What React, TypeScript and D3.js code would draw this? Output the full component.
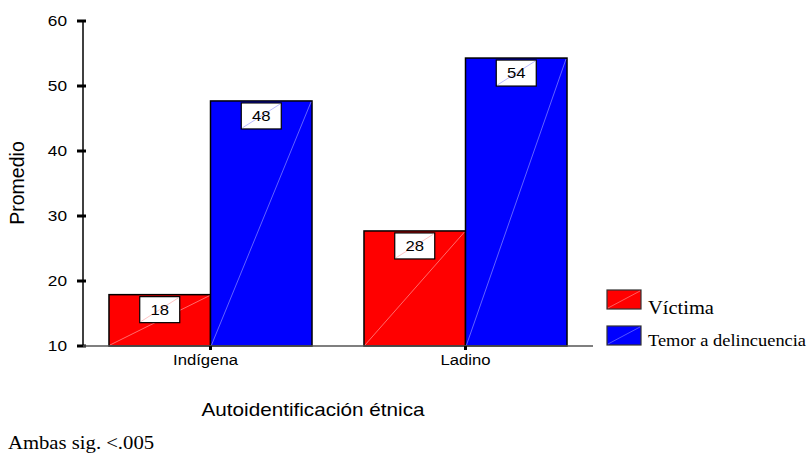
import React from "react";
import * as d3 from "d3";

const categories = ["Indígena", "Ladino"];
const seriesNames = ["Víctima", "Temor a delincuencia"];
const victima = [17.9, 27.7];
const temor = [47.7, 54.3];
const labelsVictima = ["18", "28"];
const labelsTemor = ["48", "54"];
const yTicks = [10, 20, 30, 40, 50, 60];
const colors = ["#ff0000", "#0000ff"];
const lineColors = ["#ff9a9a", "#8c8cff"];

const W = 809;
const H = 462;
const SX = 1.15;
const sans = "Arial, 'Liberation Sans', sans-serif";
const serif = "'Times New Roman', 'Liberation Serif', serif";

function T({ x, y, size, family, anchor = "start", children }: any) {
  return (
    <g transform={`translate(${x},${y}) scale(${SX},1)`}>
      <text x={0} y={0} textAnchor={anchor} fontFamily={family} fontSize={size} fill="#000">
        {children}
      </text>
    </g>
  );
}

export default function App() {
  const x = d3.scaleBand<string>().domain(categories).range([83, 593]).paddingInner(0).paddingOuter(0);
  const y = d3.scaleLinear().domain([10, 60]).range([346, 21]);
  const sub = d3.scaleBand<number>().domain([0, 1]).range([0, x.bandwidth()]).paddingOuter(0.256).paddingInner(0);
  const series = [victima, temor];
  const labels = [labelsVictima, labelsTemor];

  return (
    <svg width={W} height={H} style={{ position: "absolute", left: 0, top: 0, background: "#fff" }}>
      {categories.map((c, i) =>
        series.map((s, si) => {
          const bx = (x(c) as number) + (sub(si) as number);
          const bw = sub.bandwidth();
          const top = y(s[i]);
          const base = y(10);
          return (
            <g key={c + si}>
              <rect x={bx} y={top} width={bw} height={base - top} fill={colors[si]} stroke="#000" strokeWidth={1.5} />
              <line x1={bx + 1} y1={base - 1} x2={bx + bw - 1} y2={top + 1} stroke={lineColors[si]} strokeWidth={0.7} />
            </g>
          );
        })
      )}
      {categories.map((c, i) =>
        series.map((s, si) => {
          const bx = (x(c) as number) + (sub(si) as number);
          const bw = sub.bandwidth();
          const cx = bx + bw / 2;
          const top = y(s[i]) + 2;
          const lw = 40;
          const lh = 26;
          return (
            <g key={"l" + c + si}>
              <rect x={cx - lw / 2} y={top} width={lw} height={lh} fill="#fff" stroke="#000" strokeWidth={1.2} />
              <line x1={cx - lw / 2 + 1} y1={top + lh - 1} x2={cx + lw / 2 - 1} y2={top + 1} stroke={lineColors[si]} strokeWidth={0.6} />
              <T x={cx} y={top + 18} size={14.5} family={sans} anchor="middle">
                {labels[si][i]}
              </T>
            </g>
          );
        })
      )}
      <line x1={83} y1={y(60)} x2={83} y2={y(10)} stroke="#000" strokeWidth={1.5} />
      {yTicks.map((t) => (
        <g key={t}>
          <line x1={77} x2={86} y1={y(t)} y2={y(t)} stroke="#000" strokeWidth={3} />
          <T x={67} y={y(t) + 5} size={15} family={sans} anchor="end">
            {t}
          </T>
        </g>
      ))}
      <line x1={83} x2={593} y1={y(10)} y2={y(10)} stroke="#555" strokeWidth={1.5} />
      {categories.map((c, i) => {
        const cx = (x(c) as number) + x.bandwidth() / 2;
        return (
          <g key={"x" + c}>
            <line x1={cx} x2={cx} y1={346} y2={350} stroke="#000" strokeWidth={3} />
            <T x={cx - (i === 0 ? 5 : 0)} y={365} size={14.5} family={sans} anchor="middle">
              {c}
            </T>
          </g>
        );
      })}
      <text transform="translate(24,183) rotate(-90)" textAnchor="middle" fontFamily={sans} fontSize={19.5} fill="#000">
        Promedio
      </text>
      <T x={313} y={416} size={18} family={sans} anchor="middle">
        Autoidentificación étnica
      </T>
      <T x={8} y={449} size={18} family={serif}>
        Ambas sig. &lt;.005
      </T>
      {seriesNames.map((n, si) => {
        const ly = 290 + si * 36;
        return (
          <g key={n}>
            <rect x={607} y={ly} width={34} height={19} fill={colors[si]} stroke="#333" strokeWidth={1.2} />
            <line x1={608} y1={ly + 18} x2={640} y2={ly + 1} stroke={lineColors[si]} strokeWidth={0.6} />
            <T x={648} y={si === 0 ? 314 : 346} size={si === 0 ? 17.8 : 16} family={serif}>
              {n}
            </T>
          </g>
        );
      })}
    </svg>
  );
}
